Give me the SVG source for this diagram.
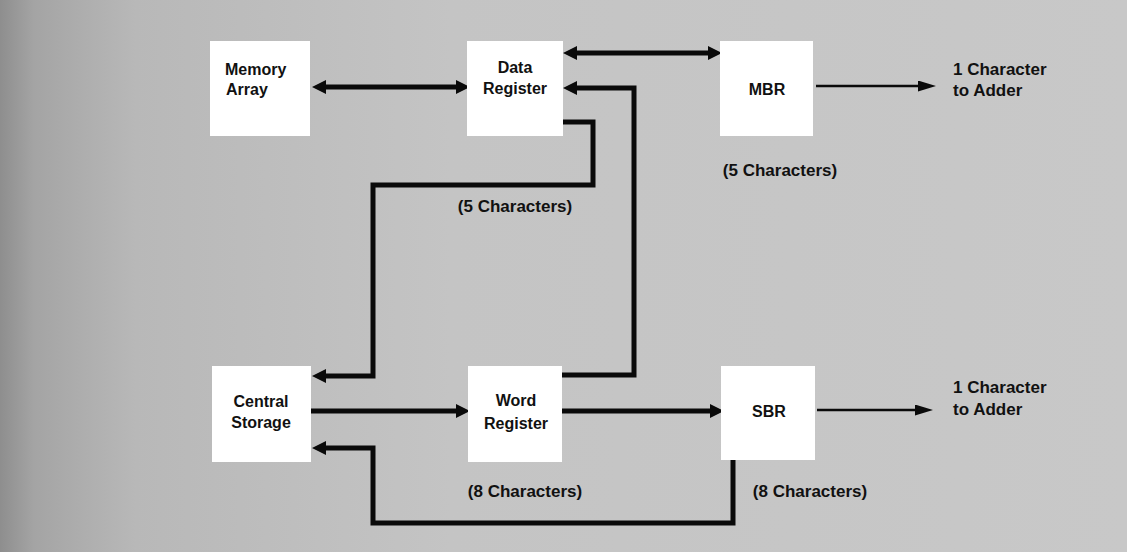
<svg xmlns="http://www.w3.org/2000/svg" width="1127" height="552" viewBox="0 0 1127 552">
  <style>
    .box { fill: #ffffff; }
    .lbl { font-family: "Liberation Sans", Arial, sans-serif; font-weight: bold; font-size: 16px; fill: #111; }
    .note { font-family: "Liberation Sans", Arial, sans-serif; font-weight: bold; font-size: 17px; fill: #111; }
    .thick { fill: none; stroke: #0a0a0a; stroke-width: 5; stroke-linejoin: miter; stroke-linecap: butt; }
    .thin { fill: none; stroke: #0a0a0a; stroke-width: 2.5; }
  </style>
  <defs>
    <linearGradient id="bg" x1="0" y1="0" x2="1" y2="0">
      <stop offset="0" stop-color="#8e8e8e"/>
      <stop offset="0.03" stop-color="#a4a4a4"/>
      <stop offset="0.12" stop-color="#b8b8b8"/>
      <stop offset="0.4" stop-color="#c4c4c4"/>
      <stop offset="1" stop-color="#c8c8c8"/>
    </linearGradient>
    <marker id="ah" viewBox="0 0 14 14" markerUnits="userSpaceOnUse" markerWidth="14" markerHeight="14" refX="0" refY="7" orient="auto-start-reverse">
      <path d="M0,0 L14,7 L0,14 Z" fill="#0a0a0a"/>
    </marker>
    <marker id="ahThin" viewBox="0 0 18 11" markerUnits="userSpaceOnUse" markerWidth="18" markerHeight="11" refX="0" refY="5.5" orient="auto">
      <path d="M0,0 L18,5.5 L0,11 Z" fill="#0a0a0a"/>
    </marker>
  </defs>

  <rect x="0" y="0" width="1127" height="552" fill="url(#bg)"/>

  <g id="connectors">
    <!-- Memory Array <-> Data Register -->
    <path class="thick" d="M326,87 L456,87" marker-start="url(#ah)" marker-end="url(#ah)"/>
    <!-- Data Register <-> MBR -->
    <path class="thick" d="M577,53 L708,53" marker-start="url(#ah)" marker-end="url(#ah)"/>
    <!-- Word Register -> Data Register -->
    <path class="thick" d="M562,375 L634,375 L634,88 L577,88" marker-end="url(#ah)"/>
    <!-- Data Register -> Central Storage -->
    <path class="thick" d="M563,122 L593,122 L593,185 L373,185 L373,376 L326,376" marker-end="url(#ah)"/>
    <!-- Central Storage -> Word Register -->
    <path class="thick" d="M311,411 L456,411" marker-end="url(#ah)"/>
    <!-- Word Register -> SBR -->
    <path class="thick" d="M562,411 L710,411" marker-end="url(#ah)"/>
    <!-- SBR -> Central Storage -->
    <path class="thick" d="M733,460 L733,523 L373,523 L373,448 L326,448" marker-end="url(#ah)"/>
    <!-- MBR -> Adder -->
    <path class="thin" d="M816,86 L918,86" marker-end="url(#ahThin)"/>
    <!-- SBR -> Adder -->
    <path class="thin" d="M817,410 L915,410" marker-end="url(#ahThin)"/>
  </g>

  <g id="memory-array">
    <rect class="box" x="210" y="41" width="100" height="95"/>
    <text class="lbl" x="225" y="75">Memory</text>
    <text class="lbl" x="226" y="95">Array</text>
  </g>

  <g id="data-register">
    <rect class="box" x="467" y="41" width="96" height="95"/>
    <text class="lbl" x="515" y="73" text-anchor="middle">Data</text>
    <text class="lbl" x="515" y="94" text-anchor="middle">Register</text>
  </g>

  <g id="mbr">
    <rect class="box" x="720" y="41" width="93" height="95"/>
    <text class="lbl" x="767" y="95" text-anchor="middle">MBR</text>
  </g>

  <g id="central-storage">
    <rect class="box" x="212" y="366" width="99" height="96"/>
    <text class="lbl" x="261" y="407" text-anchor="middle">Central</text>
    <text class="lbl" x="261" y="428" text-anchor="middle">Storage</text>
  </g>

  <g id="word-register">
    <rect class="box" x="468" y="366" width="94" height="96"/>
    <text class="lbl" x="516" y="406" text-anchor="middle">Word</text>
    <text class="lbl" x="516" y="429" text-anchor="middle">Register</text>
  </g>

  <g id="sbr">
    <rect class="box" x="721" y="366" width="94" height="94"/>
    <text class="lbl" x="769" y="417" text-anchor="middle">SBR</text>
  </g>

  <g id="labels">
    <text class="note" x="515" y="212" text-anchor="middle">(5 Characters)</text>
    <text class="note" x="780" y="176" text-anchor="middle">(5 Characters)</text>
    <text class="note" x="525" y="497" text-anchor="middle">(8 Characters)</text>
    <text class="note" x="810" y="497" text-anchor="middle">(8 Characters)</text>
    <text class="note" x="953" y="75">1 Character</text>
    <text class="note" x="953" y="96">to Adder</text>
    <text class="note" x="953" y="393">1 Character</text>
    <text class="note" x="953" y="415">to Adder</text>
  </g>
</svg>
